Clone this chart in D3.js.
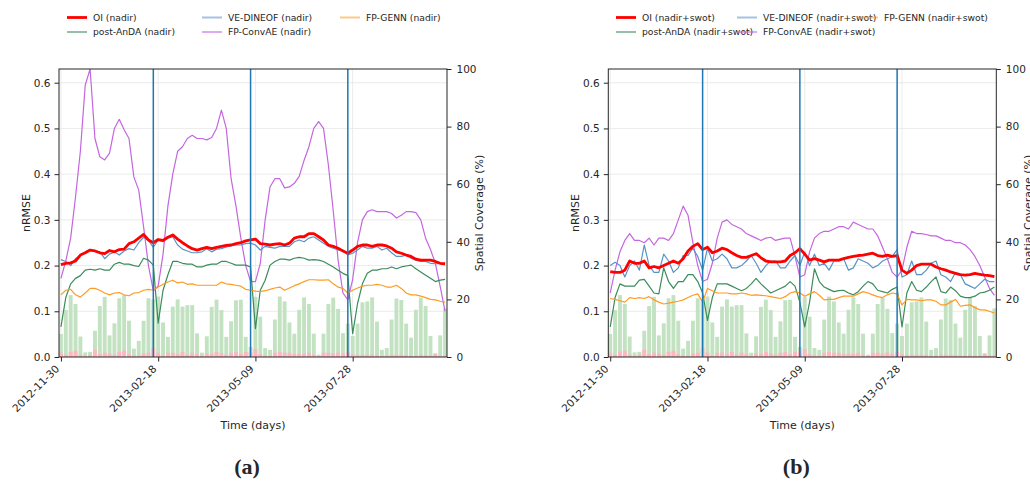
<!DOCTYPE html>
<html>
<head>
<meta charset="utf-8">
<script src="https://cdn.jsdelivr.net/npm/d3@7"></script>
<style>
  body { margin: 0; background: #fff; }
  text { font-family: "DejaVu Sans", sans-serif; fill: #262626; }
</style>
</head>
<body>
<svg id="chart" width="1030" height="481"></svg>
<script>
// x tick labels and the three vertical split lines
const tickDates = ["2012-11-30", "2013-02-18", "2013-05-09", "2013-07-28"];
const splitDates = ["2013-02-14", "2013-05-05", "2013-07-24"];

// spatial coverage (%), one bar every 4 days
const coverage = [8.0,16.3,21.5,18.4,7.1,1.6,1.8,9.1,17.7,20.9,7.5,11.7,20.4,21.5,12.6,2.9,5.6,12.6,20.4,20.0,
  21.0,12.0,7.0,17.5,20.0,17.5,18.0,18.0,8.2,1.5,7.2,17.4,19.9,16.3,7.0,12.4,19.7,19.9,7.0,3.5,
  20.9,14.0,3.1,2.5,13.0,21.0,19.3,12.0,8.1,16.4,20.7,18.4,8.1,0.8,8.1,18.4,20.6,16.7,8.3,11.6,
  7.3,11.6,19.0,19.3,20.7,12.3,2.5,3.1,13.0,20.3,19.8,11.6,6.7,16.4,20.6,17.7,7.3,1.3,7.5,16.9];
const coverageLow = [1.5,0.8,1.8,2.2,0.8,0.3,0.8,2.5,1.0,1.5,1.2,0.8,1.8,2.2,1.0,0.4,0.5,1.2,1.5,3.0,
  1.5,0.5,1.5,1.5,1.0,1.8,0.8,1.5,1.0,0.3,1.2,1.2,1.8,1.3,0.8,1.5,1.7,1.0,1.8,1.6,
  2.8,1.0,0.5,0.3,1.5,1.8,1.5,1.5,1.0,1.2,1.2,1.5,0.8,0.2,1.5,1.5,1.2,1.5,1.2,1.8,
  1.0,0.7,0.8,0.8,0.8,0.8,0.3,0.5,0.8,0.8,0.8,0.6,0.5,0.5,0.8,0.6,0.5,1.0,0.5,0.5];

// panel (a): nadir
const oiA = [0.202,0.205,0.206,0.21,0.223,0.228,0.234,0.232,0.228,0.226,0.233,0.23,0.235,0.236,0.248,0.252,0.26,0.268,0.256,0.25,
  0.257,0.255,0.262,0.267,0.258,0.25,0.243,0.237,0.234,0.237,0.24,0.237,0.24,0.242,0.244,0.245,0.248,0.25,0.254,0.256,
  0.258,0.248,0.247,0.245,0.247,0.248,0.245,0.249,0.26,0.263,0.263,0.27,0.27,0.263,0.256,0.245,0.242,0.238,0.232,0.227,
  0.234,0.242,0.245,0.245,0.242,0.245,0.245,0.243,0.238,0.23,0.227,0.223,0.22,0.214,0.212,0.212,0.212,0.209,0.205,0.204];
const anDAA = [0.066,0.13,0.16,0.172,0.178,0.19,0.192,0.19,0.193,0.19,0.19,0.203,0.207,0.203,0.203,0.2,0.198,0.216,0.212,0.201,
  0.074,0.146,0.18,0.209,0.209,0.205,0.203,0.203,0.197,0.197,0.201,0.203,0.203,0.209,0.209,0.205,0.201,0.201,0.201,0.197,
  0.062,0.146,0.168,0.201,0.209,0.214,0.214,0.212,0.216,0.218,0.216,0.212,0.213,0.212,0.209,0.203,0.197,0.19,0.183,0.178,
  0.051,0.117,0.16,0.183,0.19,0.19,0.193,0.193,0.197,0.193,0.197,0.199,0.201,0.193,0.186,0.179,0.172,0.165,0.168,0.17];
const dineofA = [0.213,0.209,0.2,0.215,0.222,0.23,0.234,0.232,0.23,0.215,0.225,0.23,0.223,0.232,0.237,0.234,0.25,0.262,0.255,0.24,
  0.256,0.252,0.26,0.263,0.245,0.236,0.232,0.228,0.228,0.23,0.237,0.23,0.236,0.237,0.241,0.243,0.245,0.245,0.248,0.249,
  0.245,0.234,0.242,0.24,0.238,0.242,0.242,0.242,0.252,0.256,0.252,0.26,0.263,0.256,0.249,0.242,0.238,0.234,0.234,0.223,
  0.227,0.234,0.242,0.238,0.238,0.242,0.234,0.238,0.228,0.22,0.22,0.223,0.216,0.212,0.209,0.209,0.205,0.204,0.204,0.205];
const convAEA = [0.172,0.21,0.26,0.35,0.45,0.595,0.63,0.478,0.438,0.431,0.446,0.5,0.52,0.497,0.478,0.394,0.365,0.285,0.2,0.145,
  0.155,0.225,0.33,0.4,0.45,0.46,0.478,0.485,0.478,0.478,0.475,0.48,0.5,0.54,0.5,0.39,0.33,0.26,0.2,0.165,
  0.165,0.205,0.3,0.372,0.39,0.39,0.37,0.372,0.38,0.395,0.43,0.46,0.5,0.515,0.5,0.42,0.32,0.212,0.14,0.125,
  0.17,0.25,0.3,0.318,0.322,0.318,0.318,0.318,0.314,0.304,0.31,0.318,0.318,0.316,0.3,0.26,0.235,0.205,0.154,0.1];
const gennA = [0.136,0.146,0.148,0.136,0.131,0.14,0.15,0.15,0.146,0.14,0.136,0.14,0.141,0.136,0.134,0.14,0.141,0.146,0.148,0.146,
  0.153,0.159,0.164,0.168,0.162,0.164,0.159,0.16,0.157,0.157,0.157,0.157,0.157,0.164,0.16,0.159,0.157,0.155,0.148,0.146,
  0.144,0.143,0.145,0.148,0.151,0.153,0.146,0.151,0.156,0.16,0.165,0.169,0.169,0.168,0.168,0.169,0.16,0.153,0.15,0.14,
  0.146,0.151,0.155,0.157,0.157,0.159,0.157,0.153,0.153,0.157,0.15,0.14,0.136,0.136,0.133,0.13,0.126,0.125,0.122,0.12];

// panel (b): nadir + swot
const oiB = [0.187,0.185,0.185,0.19,0.21,0.205,0.205,0.21,0.195,0.198,0.195,0.2,0.205,0.21,0.205,0.215,0.232,0.242,0.248,0.235,
  0.24,0.228,0.232,0.238,0.235,0.228,0.222,0.218,0.218,0.222,0.226,0.217,0.21,0.208,0.208,0.208,0.21,0.222,0.228,0.237,
  0.225,0.212,0.215,0.212,0.208,0.212,0.212,0.212,0.215,0.218,0.22,0.222,0.223,0.225,0.227,0.222,0.22,0.223,0.22,0.222,
  0.19,0.183,0.19,0.2,0.203,0.203,0.203,0.197,0.193,0.19,0.186,0.183,0.18,0.179,0.18,0.183,0.181,0.179,0.178,0.176];
const anDAB = [0.066,0.13,0.16,0.155,0.155,0.155,0.168,0.17,0.155,0.14,0.138,0.195,0.165,0.15,0.165,0.165,0.18,0.18,0.165,0.14,
  0.08,0.13,0.16,0.16,0.16,0.155,0.15,0.145,0.15,0.16,0.172,0.16,0.15,0.14,0.145,0.15,0.155,0.165,0.155,0.12,
  0.066,0.12,0.193,0.165,0.153,0.148,0.143,0.145,0.146,0.14,0.136,0.143,0.155,0.165,0.16,0.146,0.143,0.14,0.148,0.153,
  0.066,0.14,0.165,0.146,0.143,0.153,0.165,0.175,0.143,0.14,0.153,0.145,0.133,0.13,0.13,0.133,0.14,0.142,0.146,0.153];
const dineofB = [0.2,0.207,0.2,0.175,0.2,0.21,0.19,0.245,0.2,0.185,0.185,0.225,0.21,0.185,0.195,0.222,0.222,0.238,0.22,0.19,
  0.238,0.21,0.215,0.225,0.215,0.195,0.195,0.2,0.21,0.222,0.205,0.185,0.2,0.21,0.21,0.195,0.195,0.21,0.222,0.2,
  0.23,0.2,0.225,0.2,0.205,0.19,0.21,0.21,0.215,0.19,0.195,0.215,0.21,0.205,0.195,0.2,0.21,0.215,0.22,0.235,
  0.175,0.18,0.21,0.18,0.18,0.19,0.205,0.21,0.18,0.175,0.165,0.185,0.18,0.16,0.155,0.15,0.16,0.17,0.165,0.165];
const convAEB = [0.14,0.19,0.23,0.255,0.27,0.255,0.255,0.25,0.26,0.245,0.26,0.26,0.255,0.27,0.3,0.33,0.31,0.25,0.2,0.165,
  0.17,0.205,0.26,0.295,0.3,0.29,0.285,0.28,0.27,0.265,0.26,0.255,0.26,0.262,0.255,0.258,0.26,0.26,0.22,0.175,
  0.18,0.23,0.26,0.27,0.275,0.275,0.28,0.285,0.285,0.28,0.295,0.29,0.285,0.28,0.28,0.265,0.24,0.215,0.185,0.175,
  0.19,0.24,0.275,0.27,0.27,0.268,0.265,0.265,0.26,0.255,0.255,0.25,0.25,0.245,0.235,0.22,0.2,0.175,0.15,0.135];
const gennB = [0.128,0.126,0.123,0.12,0.13,0.128,0.13,0.128,0.132,0.125,0.12,0.116,0.118,0.12,0.122,0.125,0.13,0.135,0.138,0.12,
  0.15,0.145,0.14,0.14,0.14,0.138,0.138,0.14,0.138,0.135,0.136,0.135,0.134,0.132,0.13,0.128,0.132,0.14,0.143,0.14,
  0.133,0.138,0.143,0.135,0.125,0.126,0.126,0.13,0.133,0.133,0.133,0.138,0.143,0.14,0.136,0.132,0.13,0.136,0.14,0.138,
  0.114,0.126,0.125,0.125,0.123,0.125,0.125,0.122,0.114,0.114,0.12,0.126,0.111,0.113,0.114,0.108,0.103,0.103,0.1,0.096];

const svg = d3.select("#chart");
const W = 388, H = 288, TOP = 69;
const start = new Date(Date.UTC(2012, 10, 30));
const parse = d3.utcParse("%Y-%m-%d");
const times = coverage.map((_, i) => d3.utcDay.offset(start, 4 * i));

function drawPanel(left, key, tag, series, legendCols) {
  const g = svg.append("g").attr("transform", `translate(${left},${TOP})`);

  const x = d3.scaleUtc()
    .domain([d3.utcHour.offset(start, -38), d3.utcHour.offset(start, 7622)])
    .range([0, W]);
  const y = d3.scaleLinear().domain([0, 0.63]).range([H, 0]);
  const y2 = d3.scaleLinear().domain([0, 100]).range([H, 0]);
  const bw = x(d3.utcHour.offset(start, 77)) - x(start);

  g.append("clipPath").attr("id", "clip" + key)
    .append("rect").attr("width", W).attr("height", H);

  // grid
  const yt = [0.1, 0.2, 0.3, 0.4, 0.5, 0.6];
  g.selectAll(".hg").data(yt).enter().append("line")
    .attr("x1", 0).attr("x2", W)
    .attr("y1", d => y(d)).attr("y2", d => y(d))
    .attr("stroke", "#e6e6e6").attr("stroke-width", 0.8);
  g.selectAll(".vg").data(tickDates).enter().append("line")
    .attr("x1", d => x(parse(d))).attr("x2", d => x(parse(d)))
    .attr("y1", 0).attr("y2", H)
    .attr("stroke", "#e6e6e6").attr("stroke-width", 0.8);

  // coverage bars
  g.selectAll(".bar").data(coverage).enter().append("rect")
    .attr("x", (d, i) => x(times[i]) - bw / 2)
    .attr("y", d => y2(d))
    .attr("width", bw)
    .attr("height", d => H - y2(d))
    .attr("fill", "#c2e2c2");
  g.selectAll(".barlow").data(coverageLow).enter().append("rect")
    .attr("x", (d, i) => x(times[i]) - bw / 2)
    .attr("y", d => y2(d))
    .attr("width", bw)
    .attr("height", d => H - y2(d))
    .attr("fill", "#ffb6c0");

  // lines, OI drawn last so it sits on top
  const line = d3.line().x((d, i) => x(times[i])).y(d => y(d));
  const lg = g.append("g").attr("clip-path", `url(#clip${key})`);
  [series[3], series[1], series[4], series[2], series[0]].forEach(s => {
    lg.append("path").datum(s.values)
      .attr("d", line)
      .attr("fill", "none")
      .attr("stroke", s.color)
      .attr("stroke-width", s.width)
      .attr("stroke-linejoin", "round");
  });

  // split lines
  g.selectAll(".split").data(splitDates).enter().append("line")
    .attr("x1", d => x(parse(d))).attr("x2", d => x(parse(d)))
    .attr("y1", 0).attr("y2", H)
    .attr("stroke", "#1f77b4").attr("stroke-width", 1.5);

  // frame
  g.append("rect").attr("width", W).attr("height", H)
    .attr("fill", "none").attr("stroke", "#262626").attr("stroke-width", 1);

  // axes
  const ax = g.append("g").attr("transform", `translate(0,${H})`)
    .call(d3.axisBottom(x).tickValues(tickDates.map(parse))
      .tickFormat(d3.utcFormat("%Y-%m-%d")).tickSize(4.5).tickSizeOuter(0));
  const ayl = g.append("g")
    .call(d3.axisLeft(y).tickValues([0, 0.1, 0.2, 0.3, 0.4, 0.5, 0.6])
      .tickFormat(d3.format(".1f")).tickSize(4.5).tickPadding(4).tickSizeOuter(0));
  const ayr = g.append("g").attr("transform", `translate(${W},0)`)
    .call(d3.axisRight(y2).tickValues([0, 20, 40, 60, 80, 100])
      .tickSize(4.5).tickPadding(5).tickSizeOuter(0));
  [ax, ayl, ayr].forEach(a => {
    a.select(".domain").remove();
    a.selectAll("line").attr("stroke", "#262626");
    a.selectAll("text").attr("font-size", 10.5).attr("fill", "#262626")
      .style("font-family", '"DejaVu Sans", sans-serif');
  });
  ax.selectAll("text")
    .attr("x", 0).attr("y", 0).attr("dy", null)
    .attr("text-anchor", "end")
    .attr("transform", "translate(-1.5,12.5) rotate(-45)");

  // axis titles
  g.append("text").attr("x", W / 2).attr("y", 360).attr("text-anchor", "middle")
    .attr("font-size", 11).text("Time (days)");
  g.append("text").attr("transform", `translate(-29,${H / 2}) rotate(-90)`)
    .attr("text-anchor", "middle").attr("font-size", 11).text("nRMSE");
  g.append("text").attr("transform", `translate(${W + 36},${H / 2}) rotate(-90)`)
    .attr("text-anchor", "middle").attr("font-size", 11).text("Spatial Coverage (%)");

  // panel tag
  svg.append("text").attr("x", left + W / 2 - 6).attr("y", 474)
    .attr("text-anchor", "middle").attr("font-size", 22).attr("font-weight", "bold")
    .style("font-family", '"Liberation Serif", serif').text(tag);

  // legend
  const leg = svg.append("g");
  series.forEach(s => {
    const col = legendCols[s.col];
    const ly = s.row === 0 ? 17.5 : 32;
    const main = s.color === colors.oi;
    leg.append("line").attr("x1", col).attr("x2", col + 20)
      .attr("y1", ly).attr("y2", ly)
      .attr("stroke", s.color).attr("stroke-width", main ? 2.8 : 2)
      .attr("stroke-opacity", main ? 1 : 0.55);
    leg.append("text").attr("x", col + 26).attr("y", ly).attr("dy", "0.35em")
      .attr("font-size", 9.2).text(s.name);
  });
}

const colors = { oi: "#ff0000", anda: "#3a8c5c", dineof: "#5893c8", convae: "#c466e0", genn: "#ff9b22" };

function seriesFor(suffix, oi, anda, dineof, convae, genn) {
  return [
    { name: `OI (${suffix})`, values: oi, color: colors.oi, width: 2.8, col: 0, row: 0 },
    { name: `post-AnDA (${suffix})`, values: anda, color: colors.anda, width: 1.2, col: 0, row: 1 },
    { name: `VE-DINEOF (${suffix})`, values: dineof, color: colors.dineof, width: 1.2, col: 1, row: 0 },
    { name: `FP-ConvAE (${suffix})`, values: convae, color: colors.convae, width: 1.2, col: 1, row: 1 },
    { name: `FP-GENN (${suffix})`, values: genn, color: colors.genn, width: 1.2, col: 2, row: 0 }
  ];
}

const sa = seriesFor("nadir", oiA, anDAA, dineofA, convAEA, gennA);
const sb = seriesFor("nadir+swot", oiB, anDAB, dineofB, convAEB, gennB);
drawPanel(59, "a", "(a)", sa, [67, 202, 340]);
drawPanel(608.3, "b", "(b)", sb, [616, 737, 858]);
</script>
</body>
</html>
